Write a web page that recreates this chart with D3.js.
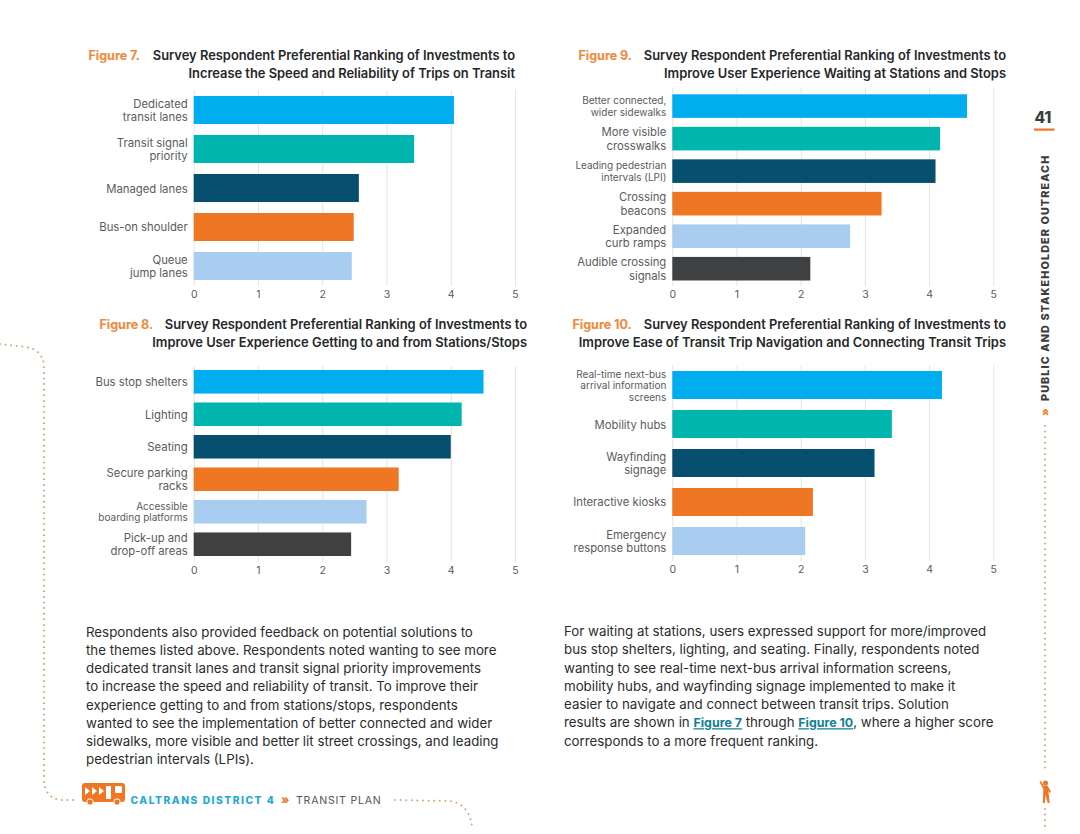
<!DOCTYPE html>
<html>
<head>
<meta charset="utf-8">
<script src="https://cdn.jsdelivr.net/npm/d3@7"></script>
<style>
html, body { margin: 0; padding: 0; background: #fff; }
svg { display: block; }
text { font-family: Inter, "Noto Sans", sans-serif; }
.figNum { font-weight: 700; fill: #f0883a; font-size: 12.6px; letter-spacing: -0.05px; }
.figTitle { font-weight: 600; fill: #26272a; font-size: 12.9px; letter-spacing: 0px; text-anchor: end; }
.tickX text { font-size: 10.5px; fill: #5a5b5d; }
.catLabel { fill: #5a5b5d; text-anchor: end; }
.body { font-size: 13.3px; fill: #2b2c2e; }
.link { font-weight: 700; font-size: 12.4px; fill: #117f93; text-decoration: underline; }
.dots { fill: none; stroke: #dca176; stroke-width: 2; stroke-linecap: round; stroke-dasharray: 0 5.6; }
</style>
</head>
<body>
<svg width="1080" height="834"></svg>
<script>
var barColors = ["#00aeef", "#00b5ad", "#064f6e", "#ef7622", "#a9cdf0", "#3f4042"];
var xTicks = [0, 1, 2, 3, 4, 5];

var fig7Categories = ["Dedicated\ntransit lanes", "Transit signal\npriority", "Managed lanes", "Bus-on shoulder", "Queue\njump lanes"];
var fig7Values = [4.05, 3.43, 2.57, 2.49, 2.46];

var fig8Categories = ["Bus stop shelters", "Lighting", "Seating", "Secure parking\nracks", "Accessible\nboarding platforms", "Pick-up and\ndrop-off areas"];
var fig8Values = [4.51, 4.17, 4.00, 3.19, 2.69, 2.45];

var fig9Categories = ["Better connected,\nwider sidewalks", "More visible\ncrosswalks", "Leading pedestrian\nintervals (LPI)", "Crossing\nbeacons", "Expanded\ncurb ramps", "Audible crossing\nsignals"];
var fig9Values = [4.59, 4.17, 4.10, 3.26, 2.77, 2.15];

var fig10Categories = ["Real-time next-bus\narrival information\nscreens", "Mobility hubs", "Wayfinding\nsignage", "Interactive kiosks", "Emergency\nresponse buttons"];
var fig10Values = [4.20, 3.42, 3.15, 2.19, 2.07];

// labels set smaller in the source so they fit
var smallLabels = ["Better connected,\nwider sidewalks", "Leading pedestrian\nintervals (LPI)", "Accessible\nboarding platforms", "Real-time next-bus\narrival information\nscreens"];

var leftText = [
	"Respondents also provided feedback on potential solutions to",
	"the themes listed above. Respondents noted wanting to see more",
	"dedicated transit lanes and transit signal priority improvements",
	"to increase the speed and reliability of transit. To improve their",
	"experience getting to and from stations/stops, respondents",
	"wanted to see the implementation of better connected and wider",
	"sidewalks, more visible and better lit street crossings, and leading",
	"pedestrian intervals (LPIs)."
];
var rightText = [
	"For waiting at stations, users expressed support for more/improved",
	"bus stop shelters, lighting, and seating. Finally, respondents noted",
	"wanting to see real-time next-bus arrival information screens,",
	"mobility hubs, and wayfinding signage implemented to make it",
	"easier to navigate and connect between transit trips. Solution",
	[["results are shown in ", 0], ["Figure 7", 1], [" through ", 0], ["Figure 10", 1], [", where a higher score", 0]],
	"corresponds to a more frequent ranking."
];

svg = d3.select("svg");

drawFigure(fig7Categories, fig7Values, {x0: 193.7, x1: 515, top: 96, bottom: 280, gridTop: 90, gridBottom: 286, pad: 0.282});
drawFigure(fig8Categories, fig8Values, {x0: 193.7, x1: 515, top: 370, bottom: 556, gridTop: 366, gridBottom: 562, pad: 0.275});
drawFigure(fig9Categories, fig9Values, {x0: 672.3, x1: 993.3, top: 94.3, bottom: 280.5, gridTop: 88, gridBottom: 286, pad: 0.275});
drawFigure(fig10Categories, fig10Values, {x0: 672.3, x1: 993.3, top: 371, bottom: 555, gridTop: 365, gridBottom: 561, pad: 0.282});

drawTitle("Figure 7.", 88.5, 515, 55, "Survey Respondent Preferential Ranking of Investments to", "Increase the Speed and Reliability of Trips on Transit");
drawTitle("Figure 8.", 99.5, 527, 324, "Survey Respondent Preferential Ranking of Investments to", "Improve User Experience Getting to and from Stations/Stops");
drawTitle("Figure 9.", 578.5, 1006, 55, "Survey Respondent Preferential Ranking of Investments to", "Improve User Experience Waiting at Stations and Stops");
drawTitle("Figure 10.", 572.5, 1006, 324, "Survey Respondent Preferential Ranking of Investments to", "Improve Ease of Transit Trip Navigation and Connecting Transit Trips");

drawParagraph(leftText, 86, 636.5);
drawParagraph(rightText, 564, 636);

drawDecor();

function drawFigure(categories, values, box) {
	var x = d3.scaleLinear().domain([0, 5]).range([box.x0, box.x1]);
	var y = d3.scaleBand().domain(categories).range([box.top, box.bottom]).paddingInner(box.pad);

	// grid is the x axis with long ticks
	var grid = svg.append("g")
		.attr("transform", "translate(0," + box.gridBottom + ")")
		.call(d3.axisBottom(x).tickValues(xTicks).tickSize(box.gridTop - box.gridBottom).tickFormat(""));
	grid.select(".domain").remove();
	grid.selectAll("line").attr("stroke", "#e4e4e4");

	var axisX = svg.append("g")
		.attr("class", "tickX")
		.attr("transform", "translate(0," + box.gridBottom + ")")
		.call(d3.axisBottom(x).tickValues(xTicks).tickSize(0).tickPadding(5).tickFormat(d3.format("d")));
	axisX.select(".domain").remove();
	axisX.selectAll("text").attr("font-family", null);

	svg.append("g").selectAll("rect")
		.data(categories)
		.enter().append("rect")
		.attr("x", x(0))
		.attr("y", function(d) { return y(d); })
		.attr("width", function(d, i) { return x(values[i]) - x(0); })
		.attr("height", y.bandwidth())
		.attr("fill", function(d, i) { return barColors[i]; });

	var labels = svg.append("g").selectAll("text")
		.data(categories)
		.enter().append("text")
		.attr("class", "catLabel")
		.attr("font-size", function(d) { return smallLabels.indexOf(d) >= 0 ? 10 : 11.3; });

	labels.each(function(d) {
		var lines = d.split("\n");
		var small = smallLabels.indexOf(d) >= 0;
		var lh = small ? 11.5 : 13.5;
		var mid = y(d) + y.bandwidth() / 2;
		var el = d3.select(this);
		lines.forEach(function(line, i) {
			el.append("tspan")
				.attr("x", box.x0 - 6)
				.attr("y", mid + (i - (lines.length - 1) / 2) * lh + (small ? 4 : 4.5))
				.text(line);
		});
	});
}

function drawTitle(num, numX, rightX, yy, line1, line2) {
	svg.append("text").attr("class", "figNum").attr("x", numX).attr("y", yy + 4.5).text(num);
	svg.append("text").attr("class", "figTitle").attr("x", rightX).attr("y", yy + 4.5).text(line1);
	svg.append("text").attr("class", "figTitle").attr("x", rightX).attr("y", yy + 23).text(line2);
}

function drawParagraph(lines, px, py) {
	var lineH = 18.25;
	lines.forEach(function(line, i) {
		var t = svg.append("text").attr("class", "body").attr("x", px).attr("y", py + i * lineH);
		if (typeof line == "string") {
			t.text(line);
		} else {
			line.forEach(function(part) {
				t.append("tspan").attr("class", part[1] ? "link" : null).text(part[0]);
			});
		}
	});
}

function drawDecor() {
	// dotted routes
	svg.append("path").attr("class", "dots").attr("d", "M0,344 L26,347 C38,349 44,356 44,368 L44,778 C44,792 50,799 62,800 L78,800");
	svg.append("path").attr("class", "dots").attr("d", "M395,800 L448,801 C462,802 472,812 472,830");
	svg.append("path").attr("class", "dots").attr("d", "M1045,426 L1045,773");
	svg.append("path").attr("class", "dots").attr("d", "M1045,809 L1045,830");

	// page number
	svg.append("text").attr("x", 1043).attr("y", 123).attr("text-anchor", "middle")
		.attr("font-size", 15.5).attr("font-weight", 800).attr("fill", "#3a3b3e").text("41");
	svg.append("rect").attr("x", 1034).attr("y", 128.5).attr("width", 20.5).attr("height", 2.2).attr("fill", "#ef7622");

	// running head
	svg.append("text").attr("transform", "translate(1049,401) rotate(-90)")
		.attr("font-size", 10.8).attr("font-weight", 800).attr("letter-spacing", 1.1).attr("fill", "#3a3b3e")
		.text("PUBLIC AND STAKEHOLDER OUTREACH");
	svg.append("text").attr("transform", "translate(1048.5,416) rotate(-90)")
		.attr("font-size", 11).attr("font-weight", 800).attr("fill", "#ef7622").text("»");

	// bus icon
	var bus = svg.append("g").attr("transform", "translate(82,783)");
	bus.append("path").attr("fill", "#ef7622").attr("d", "M3,0 H40 Q43,0 43,3 V16 Q43,19 40,19 H3 Q0,19 0,16 V3 Q0,0 3,0 Z");
	bus.append("path").attr("fill", "#fff").attr("d", "M3,4 L8,8 L3,12 Z M10,4 L15,8 L10,12 Z M17,4 L22,8 L17,12 Z");
	bus.append("rect").attr("x", 24).attr("y", 3).attr("width", 5).attr("height", 13).attr("fill", "#fff");
	bus.append("rect").attr("x", 33).attr("y", 3).attr("width", 7).attr("height", 7).attr("rx", 1).attr("fill", "#fff");
	bus.append("circle").attr("cx", 8).attr("cy", 19).attr("r", 3.2).attr("fill", "#ef7622").attr("stroke", "#fff");
	bus.append("circle").attr("cx", 35).attr("cy", 19).attr("r", 3.2).attr("fill", "#ef7622").attr("stroke", "#fff");

	// footer
	svg.append("text").attr("x", 130.5).attr("y", 804).attr("font-size", 10.2).attr("font-weight", 800)
		.attr("letter-spacing", 1.55).attr("fill", "#1fa9d6").text("CALTRANS DISTRICT 4");
	svg.append("text").attr("x", 281).attr("y", 804).attr("font-size", 12).attr("font-weight", 800)
		.attr("fill", "#ef7622").text("»");
	svg.append("text").attr("x", 296).attr("y", 804).attr("font-size", 10.6).attr("letter-spacing", 0.75)
		.attr("fill", "#55565a").text("TRANSIT PLAN");

	// walking figure
	var man = svg.append("g").attr("transform", "translate(1039.5,780)").attr("fill", "#ef7622");
	man.append("circle").attr("cx", 6).attr("cy", 3).attr("r", 2.5);
	man.append("path").attr("d", "M0,2 L1.5,1 L4,5.5 L8,5.5 L11.5,12 L10,13 L8.8,10.5 L10.2,23 L8.2,23 L6,15 L5.4,23 L3.4,23 L3.8,9 Z");
}
</script>
</body>
</html>
